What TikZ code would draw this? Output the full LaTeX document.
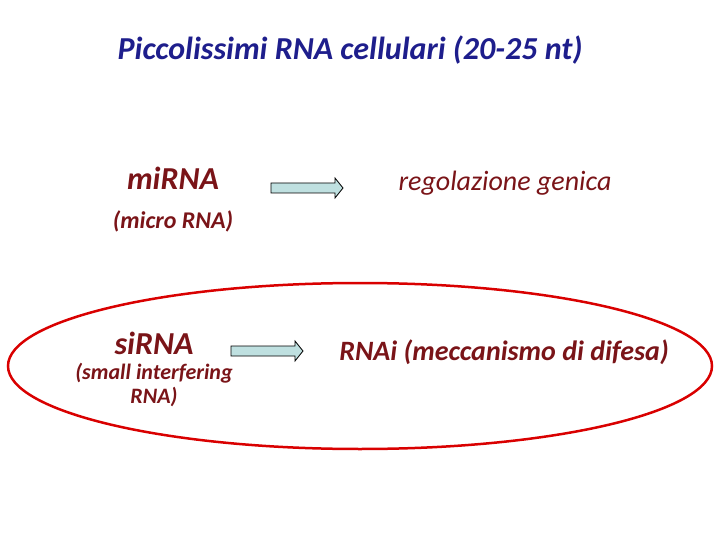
\documentclass[tikz,border=0pt]{standalone}
\usepackage{fontspec}
\setmainfont{Carlito}
\definecolor{dred}{HTML}{7A1418}
\definecolor{dblue}{HTML}{1E1E8C}
\definecolor{afill}{HTML}{BFE0E0}
\tikzset{
 fat/.style={draw=black, fill=afill, line width=0.8pt, line join=miter},
 lab/.style={text=dred, align=center, inner sep=0pt}
}
\newcommand{\fatarrow}[3]{\draw[fat] (#1,#3-5) -- (#2-8,#3-5) -- (#2-8,#3-10) -- (#2,#3) -- (#2-8,#3+10) -- (#2-8,#3+5) -- (#1,#3+5) -- cycle;}
\begin{document}
\begin{tikzpicture}[x=1pt,y=-1pt]
\useasboundingbox (0,0) rectangle (720,540);
\node[text=dblue,font=\fontsize{32}{36}\selectfont\bfseries\itshape] (t) at (350,50) {Piccolissimi RNA cellulari (20-25 nt)};
\node[lab,font=\fontsize{32}{36}\selectfont\bfseries\itshape] (mi) at (173,178) {miRNA};
\node[lab,font=\fontsize{24}{28}\selectfont\bfseries\itshape] (mic) at (173,221) {(micro RNA)};
\fatarrow{271}{343}{188}
\node[lab,font=\fontsize{28}{32}\selectfont\itshape] (rg) at (505,183) {regolazione genica};
\draw[red!85!black, line width=2.5pt] (360,366) ellipse [x radius=352, y radius=83];
\node[lab,font=\fontsize{32}{36}\selectfont\bfseries\itshape] (si) at (154,343) {siRNA};
\node[lab,font=\fontsize{22}{24}\selectfont\bfseries\itshape] (sic) at (154,385) {(small interfering\\RNA)};
\fatarrow{231}{303}{351}
\node[lab,font=\fontsize{28}{32}\selectfont\bfseries\itshape] (rn) at (504,352) {RNAi (meccanismo di difesa)};
\end{tikzpicture}
\end{document}
